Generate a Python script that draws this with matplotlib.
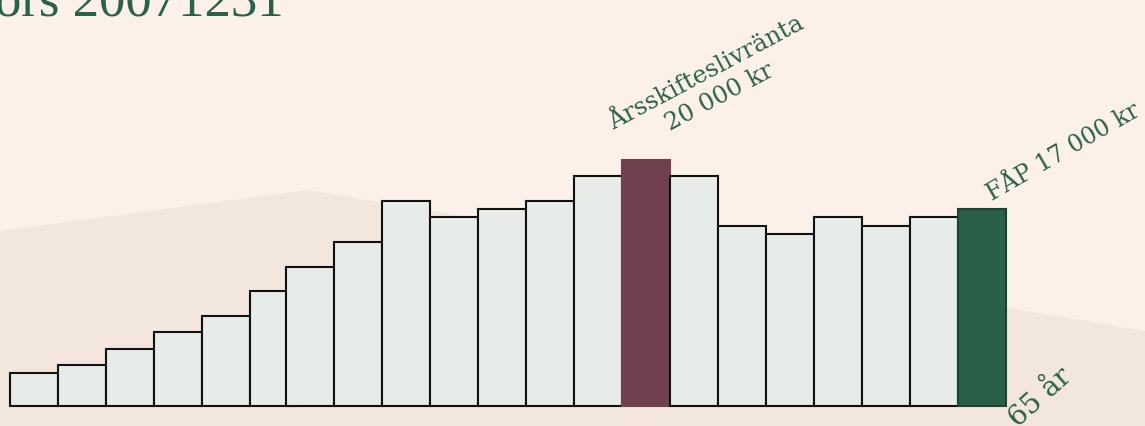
import numpy as np
import matplotlib.pyplot as plt
from matplotlib.patches import Polygon

# bar heights (relative units), ages 45..65
ages = list(range(45, 66))
values = [4, 5, 7, 9, 11, 14, 17, 20, 25, 23, 24, 25, 28, 30, 28, 22, 21, 23, 22, 23, 24]
highlight_idx = 13      # Årsskifteslivränta bar
last_idx = 20           # FÅP bar at 65 år

title_text = "ors 20071231"
label_mid = "Årsskifteslivränta\n20 000 kr"
label_last = "FÅP 17 000 kr"
label_age = "65 år"

BG = "#FBF1E8"
HILL = "#F2E6DD"
BAR = "#E8ECE8"
MAROON = "#70404E"
GREEN = "#296047"
TEXT = "#2B6148"

W, H = 1145, 426
fig = plt.figure(figsize=(W / 100, H / 100), dpi=100)
fig.patch.set_facecolor(BG)

ax = fig.add_axes([0, 0, 1, 1])
ax.set_facecolor("none")
ax.axis("off")

# soft background hill, in figure pixels, behind the bars
hill_px = [(0, 231), (308, 190), (W, 331), (W, H), (0, H)]
ax.add_patch(Polygon([(x / W, 1 - y / H) for x, y in hill_px],
                     closed=True, transform=fig.transFigure,
                     facecolor=HILL, edgecolor="none", zorder=0))

# bar 48 px wide, first edge at x=10, baseline 20 px above bottom, 8.2 px per unit
bw, x0, y0, unit = 48, 10, 20, 8.2
ax.set_xlim(-x0 / bw, (W - x0) / bw)
ax.set_ylim(-y0 / unit, (H - y0) / unit)

idx = np.arange(len(values))
xpos = np.where(idx < 6, idx, idx - 0.25)   # bars after the 6th are nudged left
colors = [BAR] * len(values)
edges = ["#111111"] * len(values)
colors[highlight_idx] = MAROON
edges[highlight_idx] = MAROON
colors[last_idx] = GREEN
edges[last_idx] = "#1D4430"

ax.bar(xpos, values, width=1.0, align="edge", color=colors,
       edgecolor=edges, linewidth=1.5, zorder=2)

serif = ["DejaVu Serif"]
hx = xpos[highlight_idx] + 0.5
ax.annotate(label_mid, xy=(hx, values[highlight_idx]), xytext=(67, 75),
            textcoords="offset pixels", ha="center", va="center",
            rotation=28, rotation_mode="anchor", multialignment="center",
            fontsize=17.5, family=serif, color=TEXT, linespacing=1.25,
            zorder=3)

lx = xpos[last_idx] + 0.5
ax.annotate(label_last, xy=(lx, values[last_idx]), xytext=(10, 8),
            textcoords="offset pixels", ha="left", va="baseline",
            rotation=30, rotation_mode="anchor",
            fontsize=17, family=serif, color=TEXT, zorder=3)

ax.annotate(label_age, xy=(xpos[last_idx] + 1, 0), xytext=(12, -22),
            textcoords="offset pixels", ha="left", va="baseline",
            rotation=42, rotation_mode="anchor",
            fontsize=20, family=serif, color=TEXT, annotation_clip=False,
            zorder=3)

# title, mostly cut off at the top edge
fig.text(-5 / W, 1 - 15 / H, title_text, ha="left", va="baseline",
         fontsize=38, family=["Liberation Serif"], color=TEXT)

fig.savefig("out.png", dpi=100, facecolor=BG)
